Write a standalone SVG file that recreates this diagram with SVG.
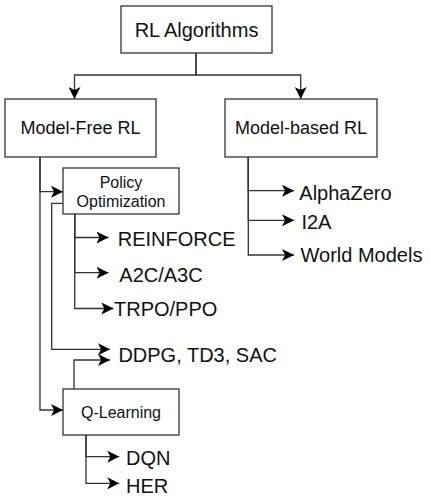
<svg xmlns="http://www.w3.org/2000/svg" width="431" height="501" viewBox="0 0 431 501">
<style>
.box{fill:#fff;stroke:#333;stroke-width:1.3}
.edge{fill:none;stroke:#333;stroke-width:1.3;marker-end:url(#arr)}
text{font-family:"Liberation Sans",Arial,Helvetica,sans-serif;fill:#111}
.t20{font-size:20px}
.t18{font-size:18px}
.t16{font-size:16px}
.c{text-anchor:middle}
</style>
<defs>
<marker id="arr" viewBox="0 0 12 12" refX="12" refY="6" markerWidth="12" markerHeight="12" markerUnits="userSpaceOnUse" orient="auto">
<path d="M0,0 L12,6 L0,12 L3,6 Z" fill="#000"/>
</marker>
</defs>
<rect width="431" height="501" fill="#fff"/>
<g id="connectors">
<path class="edge" d="M196,53 V75 H74.5 V99"/>
<path class="edge" d="M196,53 V75 H300.7 V99"/>
<path class="edge" d="M40,157 V191.7 H63"/>
<path class="edge" d="M40,157 V410 H63"/>
<path class="edge" d="M63,203.3 H51.7 V349.3 H110"/>
<path class="edge" d="M74,389 V360 H110"/>
<path class="edge" d="M74.7,214 V237.5 H108.5"/>
<path class="edge" d="M74.7,214 V272.7 H108.5"/>
<path class="edge" d="M74.7,214 V308.5 H113.3"/>
<path class="edge" d="M248.3,157 V190.7 H294"/>
<path class="edge" d="M248.3,157 V220.3 H294"/>
<path class="edge" d="M248.3,157 V255 H294"/>
<path class="edge" d="M86,435 V456.7 H119.3"/>
<path class="edge" d="M86,435 V483.3 H119.3"/>
</g>
<g id="rl-algorithms">
<rect class="box" x="121" y="6" width="151" height="47"/>
<text class="t20 c" x="196.5" y="36.5">RL Algorithms</text>
</g>
<g id="model-free">
<rect class="box" x="5" y="99" width="151" height="58"/>
<text class="t18 c" x="80.5" y="134">Model-Free RL</text>
</g>
<g id="model-based">
<rect class="box" x="225" y="99" width="152" height="58"/>
<text class="t18 c" x="301" y="134">Model-based RL</text>
</g>
<g id="policy-optimization">
<rect class="box" x="63" y="168" width="116" height="46"/>
<text class="t16 c" x="121" y="187.7">Policy</text>
<text class="t16 c" x="121" y="207.3">Optimization</text>
</g>
<g id="q-learning">
<rect class="box" x="63" y="389" width="116" height="46"/>
<text class="t16 c" x="121" y="417.5">Q-Learning</text>
</g>
<g id="reinforce"><text class="t20" x="117.7" y="246">REINFORCE</text></g>
<g id="a2c"><text class="t20" x="119.3" y="281.7">A2C/A3C</text></g>
<g id="trpo"><text class="t20" x="114" y="315.7">TRPO/PPO</text></g>
<g id="ddpg"><text class="t20" x="118.4" y="361.7">DDPG, TD3, SAC</text></g>
<g id="alphazero"><text class="t20" x="299.3" y="200">AlphaZero</text></g>
<g id="i2a"><text class="t20" x="301.4" y="229">I2A</text></g>
<g id="world-models"><text class="t20" x="300.5" y="262.3">World Models</text></g>
<g id="dqn"><text class="t20" x="126" y="465">DQN</text></g>
<g id="her"><text class="t20" x="126" y="492.7">HER</text></g>
</svg>
